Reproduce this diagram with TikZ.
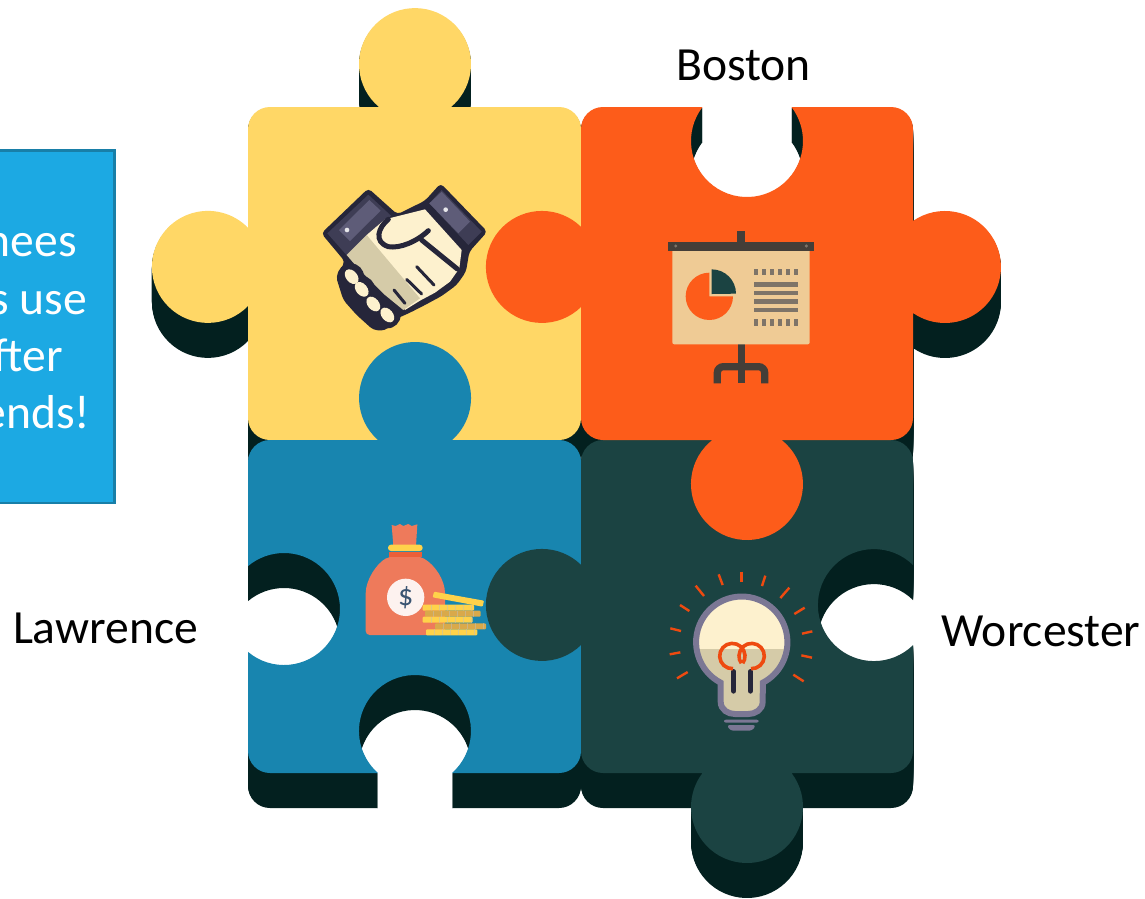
\documentclass[tikz,border=0pt]{standalone}
\usepackage{fontspec}
\setmainfont{Carlito}
\usepackage{xcolor}
\usetikzlibrary{calc}
\definecolor{yellowpc}{HTML}{FFD766}
\definecolor{orangepc}{HTML}{FD5C1A}
\definecolor{bluepc}{HTML}{1885AF}
\definecolor{tealpc}{HTML}{1B4342}
\definecolor{darkpc}{HTML}{03201F}
\definecolor{boxblue}{HTML}{1CA9E3}
\definecolor{boxline}{HTML}{187FA8}
\definecolor{inkdark}{HTML}{26263A}
\definecolor{cuffa}{HTML}{5E5C78}
\definecolor{cuffb}{HTML}{3E3D55}
\definecolor{creamy}{HTML}{FDF1CE}
\definecolor{tany}{HTML}{D5CBA8}
\definecolor{boardc}{HTML}{EFCB95}
\definecolor{standc}{HTML}{443E38}
\definecolor{grayc}{HTML}{7E7468}
\definecolor{bagc}{HTML}{EE7A5B}
\definecolor{bagd}{HTML}{EC5F38}
\definecolor{goldc}{HTML}{FFD24A}
\definecolor{goldd}{HTML}{D9A94A}
\definecolor{bulbc}{HTML}{7B7794}
\definecolor{rayc}{HTML}{EE4A10}
\definecolor{dollarc}{HTML}{3A5472}
\tikzset{
 lbl/.style={inner sep=0pt,font=\fontsize{47.6}{56}\selectfont},
 boxtxt/.style={lbl,text=white,anchor=base east},
 ray/.style={rayc,line width=2.4pt},
 coinseam/.style={black!25,line width=0.3pt,opacity=0.5}
}
\newcommand{\yellowpiece}{(270,107) -- (379,107) arc[start angle=130,end angle=410,radius=56] -- (559,107) arc[start angle=-90,end angle=0,radius=22]
 -- (581,418) arc[start angle=0,end angle=90,radius=22] -- (270,440) arc[start angle=90,end angle=180,radius=22]
 -- (248,306) arc[start angle=44.3,end angle=315.7,radius=56] -- (248,129) arc[start angle=180,end angle=270,radius=22] -- cycle}
\newcommand{\orangepiece}{(603,107) -- (702.5,107) arc[start angle=217.4,end angle=-37.4,radius=56] -- (891,107) arc[start angle=-90,end angle=0,radius=22]
 -- (913,221) arc[start angle=235.2,end angle=484.8,radius=56] -- (913,418) arc[start angle=0,end angle=90,radius=22]
 -- (781.6,440) arc[start angle=-51.8,end angle=231.8,radius=56] -- (603,440) arc[start angle=90,end angle=180,radius=22]
 -- (581,307) arc[start angle=45.7,end angle=314.3,radius=56] -- (581,129) arc[start angle=180,end angle=270,radius=22] -- cycle}
\newcommand{\bluepiece}{(270,440) -- (378,440) arc[start angle=131.4,end angle=408.6,radius=56] -- (559,440) arc[start angle=-90,end angle=0,radius=22]
 -- (581,751) arc[start angle=0,end angle=90,radius=22] -- (452,773) arc[start angle=48.6,end angle=-228.6,radius=56]
 -- (270,773) arc[start angle=90,end angle=180,radius=22] -- (248,651.9) arc[start angle=130,end angle=-130,radius=56]
 -- (248,462) arc[start angle=180,end angle=270,radius=22] -- cycle}
\newcommand{\tealpiece}{(603,440) -- (891,440) arc[start angle=-90,end angle=0,radius=22] -- (913,565) arc[start angle=-45.7,end angle=-314.3,radius=56]
 -- (913,751) arc[start angle=0,end angle=90,radius=22] -- (791.5,773) arc[start angle=-37.4,end angle=217.4,radius=56]
 -- (603,773) arc[start angle=90,end angle=180,radius=22] -- (581,645) arc[start angle=45.7,end angle=314.3,radius=56]
 -- (581,462) arc[start angle=180,end angle=270,radius=22] -- cycle}
\begin{document}
\begin{tikzpicture}[x=1pt,y=1pt,yscale=-1]
\clip (0,0) rectangle (1145,898);
\fill[white] (0,0) rectangle (1145,898);

% text box, cut by the page
\draw[boxline,fill=boxblue,line width=2.5pt] (-6,150.5) rectangle (114.5,503);
\node[boxtxt] (linea) at (77,256) {nees};
\node[boxtxt] (lineb) at (87,314) {s use};
\node[boxtxt] (linec) at (63,371) {fter};
\node[boxtxt] (lined) at (90.5,428) {ends!};

% sides of the pieces
\foreach \s in {1,...,35}{
  \fill[darkpc,yshift=\s pt] \yellowpiece;
  \fill[darkpc,yshift=\s pt] \orangepiece;
  \fill[darkpc,yshift=\s pt] \bluepiece;
  \fill[darkpc,yshift=\s pt] \tealpiece;
}
\fill[yellowpc] \yellowpiece;
\fill[bluepc] \bluepiece;
\fill[tealpc] \tealpiece;
\fill[orangepc] \orangepiece;

% handshake
\begin{scope}[shift={(310,170)},scale=1/3]
\fill[inkdark,rounded corners=4pt] (34,190) -- (175,55) -- (262,133) -- (345,92) -- (392,40) -- (532,185) -- (478,245) -- (468,305) -- (440,345) -- (395,378) -- (345,405) -- (300,428) -- (262,445) -- (225,482) -- (190,480) -- (140,435) -- (100,390) -- (78,320) -- (105,275) -- cycle;
\fill[cuffb] (52,190) -- (175,74) -- (243,137) -- (112,258) -- cycle;
\fill[cuffa] (87,180) -- (178,90) -- (212,122) -- (120,213) -- cycle;
\fill[cuffb] (358,100) -- (395,60) -- (515,185) -- (475,225) -- cycle;
\fill[cuffa] (358,100) -- (395,65) -- (480,155) -- (445,190) -- cycle;
\fill[white!85!cuffa] (111,180) circle (7);
\fill[white!85!cuffa] (407,119) circle (7);
\fill[creamy] (170,195) -- (225,148) -- (345,118) -- (455,240) -- (448,295) -- (420,335) -- (375,368) -- (330,392) -- (285,420) -- cycle;
\fill[tany] (110,255) -- (170,195) -- (330,385) -- (280,420) -- (225,375) -- (140,290) -- cycle;
\draw[inkdark,line width=5pt,line cap=round,fill=creamy] (235,148) .. controls (205,172) and (190,215) .. (235,230) .. controls (270,236) and (320,215) .. (355,182);
\draw[inkdark,line width=5pt,line cap=round] (335,210) -- (442,297);
\draw[inkdark,line width=3pt,line cap=round] (320,290) -- (372,345);
\draw[inkdark,line width=3pt,line cap=round] (290,328) -- (335,372);
\draw[inkdark,line width=3pt,line cap=round] (252,360) -- (285,400);
\foreach \cx/\cy in {122/320,155/358,190/402,232/435}{
  \fill[inkdark] (\cx,\cy) circle (40);
}
\foreach \cx/\cy in {125/320,155/358,190/402,232/435}{
  \fill[creamy,rotate around={50:(\cx,\cy)}] (\cx,\cy) ellipse (25 and 17);
}
\end{scope}

% presentation board
\begin{scope}[shift={(650,220)},scale=1/3]
\fill[standc] (262,33) rectangle (285,70);
\fill[standc] (263,370) rectangle (285,490);
\draw[standc,line width=7.3pt,rounded corners=6pt] (202,490) -- (202,440) -- (344,440) -- (344,490);
\fill[boardc,rounded corners=2pt] (67,85) rectangle (479,373);
\fill[standc] (55,65) rectangle (492,92);
\fill[grayc] (77,78) circle (5);
\fill[grayc] (469,78) circle (5);
\fill[orangepc] (178,229) -- (178,158) arc[start angle=-90,end angle=-360,radius=71] -- cycle;
\fill[tealpc] (185,222) -- (185,148) arc[start angle=-90,end angle=0,radius=73] -- cycle;
\foreach \by in {187,212,237,263}{
  \fill[grayc] (312,\by) rectangle (445,\by+14);
}
\foreach \bx in {312,336,361,385,409,433}{
  \fill[grayc] (\bx,147) rectangle (\bx+12,165);
  \fill[grayc] (\bx,298) rectangle (\bx+12,317);
}
\end{scope}

% money bag
\begin{scope}[shift={(350,510)},scale=1/3]
\fill[bagc,rounded corners=4pt] (47,375) -- (47,262) .. controls (47,210) and (80,160) .. (118,140) -- (212,140) .. controls (255,165) and (285,210) .. (285,262) -- (285,375) -- cycle;
\fill[bagd] (117,125) rectangle (215,142);
\fill[bagc] (130,108) -- (125,45) -- (137,48) -- (150,42) -- (160,48) -- (175,42) -- (185,48) -- (202,43) -- (198,108) -- cycle;
\fill[goldc,rounded corners=3pt] (114,104) rectangle (218,123);
\fill[white!90!bagc] (167,262) circle (56);
\node[inner sep=0pt,text=dollarc,font=\fontsize{30}{30}\selectfont] (dollar) at (167,262) {\$};
\foreach \cxa/\cya/\cxb/\cyb/\cc in {218/284/372/302/goldc,225/302/392/320/goldd,218/320/368/338/goldc,255/340/408/358/goldd,228/358/382/376/goldc}{
  \fill[\cc,rounded corners=1pt] (\cxa,\cya) rectangle (\cxb,\cyb);
  \foreach \k in {1,...,6}{
    \draw[coinseam] ($(\cxa,\cya)+(\k*24,0)$) -- ($(\cxa,\cyb)+(\k*24,0)$);
  }
}
\fill[goldc,rounded corners=1pt] (252,245) -- (402,272) -- (398,290) -- (248,262) -- cycle;
\end{scope}

% light bulb
\begin{scope}[shift={(655,560)},scale=1/3]
\fill[tany] (197,368) arc[start angle=117.5,end angle=422.5,radius=137] -- (323,425) .. controls (323,450) and (300,462) .. (280,462) -- (240,462) .. controls (220,462) and (197,450) .. (197,425) -- cycle;
\begin{scope}
\clip (100,90) rectangle (420,265);
\fill[creamy] (260,245) circle (137);
\end{scope}
\draw[bulbc,line width=6pt] (197,368) arc[start angle=117.5,end angle=422.5,radius=137] -- (323,425) .. controls (323,450) and (300,462) .. (280,462) -- (240,462) .. controls (220,462) and (197,450) .. (197,425) -- cycle;
\draw[inkdark,line width=5.3pt,line cap=round] (236,335) -- (236,393);
\draw[inkdark,line width=5.3pt,line cap=round] (286,335) -- (286,393);
\draw[rayc,line width=3.6pt] (234,326) arc[start angle=87,end angle=395,radius=38];
\draw[rayc,line width=3.6pt] (288,326) arc[start angle=93,end angle=-215,radius=38];
\fill[bulbc,rounded corners=2pt] (207,479) rectangle (311,488);
\fill[bulbc,rounded corners=3pt] (215,495) -- (303,495) -- (292,512) -- (226,512) -- cycle;
\foreach \xa/\ya/\xb/\yb in {260/35/260/65,191/43/203/75,122/77/147/108,75/135/103/153,46/205/78/213,44/283/76/277,66/355/98/336,331/47/321/78,403/83/376/114,449/143/418/162,472/214/441/221,471/293/439/286,446/364/415/344}{
  \draw[ray] (\xa,\ya) -- (\xb,\yb);
}
\end{scope}

\node[lbl] (boston) at (743.5,65) {Boston};
\node[lbl] (lawrence) at (105.5,628) {Lawrence};
\node[lbl] (worcester) at (1041,631) {Worcester};
\end{tikzpicture}
\end{document}
